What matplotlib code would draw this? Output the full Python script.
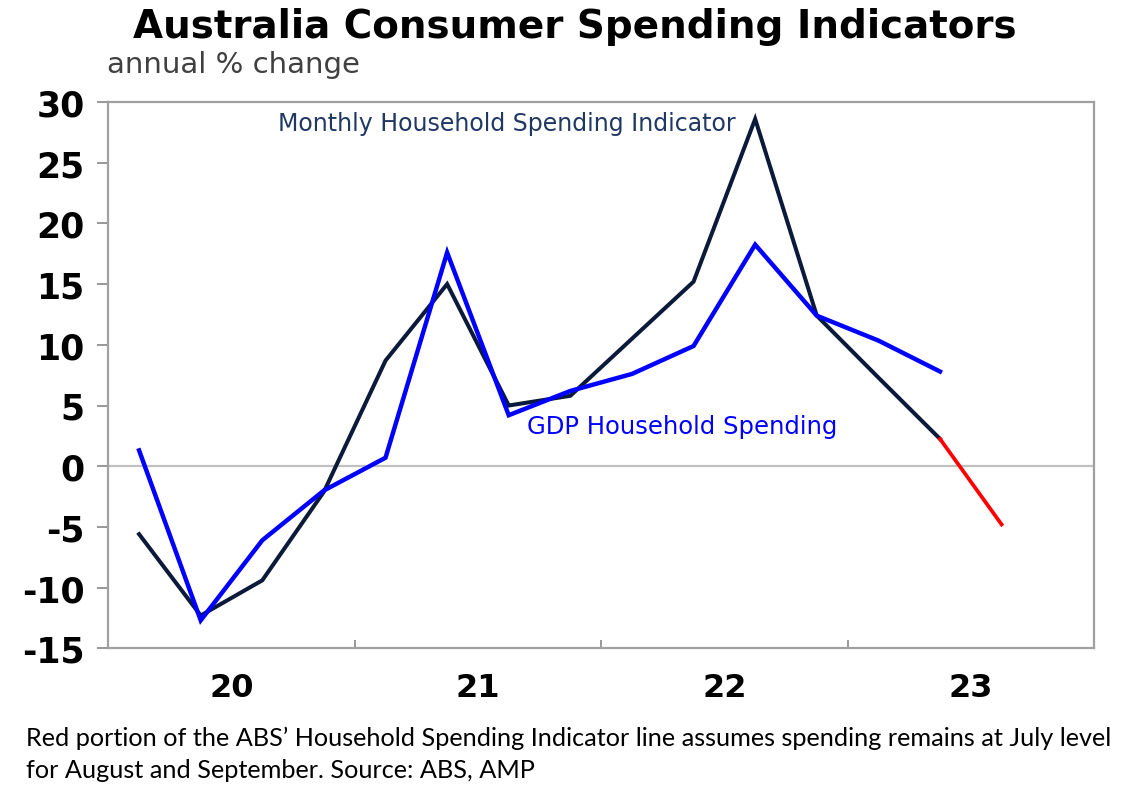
import matplotlib
matplotlib.use("Agg")
import matplotlib.pyplot as plt
import numpy as np

# ---- data ----
quarters = ["2020Q1", "2020Q2", "2020Q3", "2020Q4",
            "2021Q1", "2021Q2", "2021Q3", "2021Q4",
            "2022Q1", "2022Q2", "2022Q3", "2022Q4",
            "2023Q1", "2023Q2"]
monthly_hsi = [-5.6, -12.3, -9.4, -2.1, 8.7, 15.0, 5.0, 5.8, 10.5, 15.2, 28.6, 12.4, 7.3, 2.25]
gdp_spending = [1.3, -12.7, -6.1, -2.0, 0.7, 17.6, 4.2, 6.2, 7.6, 9.9, 18.25, 12.4, 10.35, 7.8]
red_quarters = ["2023Q2", "2023Q3"]
red_values = [2.25, -4.8]
year_labels = ["20", "21", "22", "23"]
years = [2020, 2021, 2022, 2023]
y_ticks = [30, 25, 20, 15, 10, 5, 0, -5, -10, -15]


def qx(q):
    y = int(q[:4]); n = int(q[-1])
    return y + (n - 0.5) / 4.0


FONT = "DejaVu Sans"
W, H = 1141, 803
fig = plt.figure(figsize=(W / 100, H / 100), dpi=100)
ax = fig.add_axes([108.3 / W, 1 - 649.3 / H, (1094 - 108.3) / W, (649.3 - 103) / H])

navy = "#0b1a3a"
blue = "#0000ff"
red = "#ff0000"

ax.axhline(0, color="#c0c0c0", lw=1.6, zorder=1)
ax.plot([qx(q) for q in quarters], monthly_hsi, color=navy, lw=2.9, zorder=3,
        solid_joinstyle="miter")
ax.plot([qx(q) for q in quarters], gdp_spending, color=blue, lw=3.2, zorder=4,
        solid_joinstyle="miter")
ax.plot([qx(q) for q in red_quarters], red_values, color=red, lw=2.7, zorder=3)

ax.set_xlim(2020, 2024)
ax.set_ylim(-15, 30)

ax.set_yticks(y_ticks)
ax.set_yticklabels([str(v) for v in y_ticks], fontfamily=FONT, fontweight="bold",
                   fontsize=25, color="black")
ax.tick_params(axis="y", direction="out", length=8, width=1.3, color="#909090", pad=9)

ax.set_xticks([y + 0.5 for y in years])
ax.set_xticklabels(year_labels, fontfamily=FONT, fontweight="bold", fontsize=23, color="black")
ax.tick_params(axis="x", which="major", length=0, pad=17)
ax.set_xticks([2021, 2022, 2023], minor=True)
ax.tick_params(axis="x", which="minor", direction="in", length=6, width=1.3, color="#909090")

for s in ax.spines.values():
    s.set_color("#a0a0a0")
    s.set_linewidth(1.6)

# texts
fig.text(575 / W, 1 - 27 / H, "Australia Consumer Spending Indicators", ha="center", va="center",
         fontfamily=FONT, fontweight="bold", fontsize=28, color="black")
fig.text(107 / W, 1 - 65 / H, "annual % change", ha="left", va="center",
         fontfamily=FONT, fontsize=21, color="#404040")
fig.text(278 / W, 1 - 124 / H, "Monthly Household Spending Indicator", ha="left", va="center",
         fontfamily=FONT, fontsize=17, color="#1f3864")
fig.text(527 / W, 1 - 427 / H, "GDP Household Spending", ha="left", va="center",
         fontfamily=FONT, fontsize=17.5, color=blue)
fig.text(26 / W, 1 - 746 / H,
         "Red portion of the ABS\u2019 Household Spending Indicator line assumes spending remains at July level",
         ha="left", va="baseline", fontfamily="Lato", fontsize=18.2, color="black")
fig.text(26 / W, 1 - 778 / H, "for August and September. Source: ABS, AMP",
         ha="left", va="baseline", fontfamily="Lato", fontsize=18.2, color="black")

fig.savefig("out.png", dpi=100)
